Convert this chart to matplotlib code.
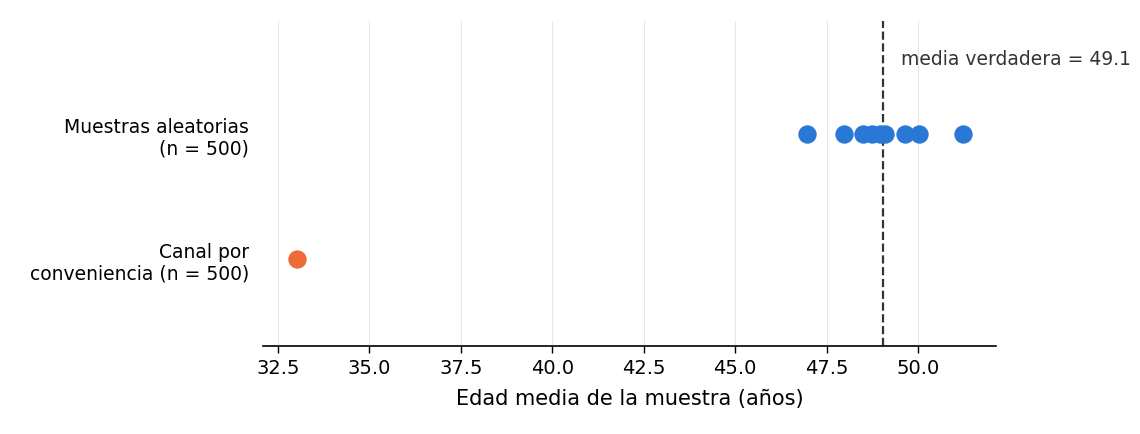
import matplotlib.pyplot as plt

# sample means
random_means = [46.95, 47.98, 48.49, 48.74, 48.95, 49.1, 49.65, 50.03, 51.22]
convenience_means = [33.02]
true_mean = 49.03
true_label = "media verdadera = 49.1"
row_labels = ["Canal por\nconveniencia (n = 500)", "Muestras aleatorias\n(n = 500)"]
xticks = [32.5, 35.0, 37.5, 40.0, 42.5, 45.0, 47.5, 50.0]

fig = plt.figure(figsize=(11.4, 4.35), dpi=100)
ax = fig.add_axes([263 / 1140, 88 / 435, 733 / 1140, 325 / 435])

ax.scatter(random_means, [1] * len(random_means), s=175, color="#2A78D6", zorder=3, linewidths=0)
ax.scatter(convenience_means, [0] * len(convenience_means), s=175, color="#EE6A36", zorder=3, linewidths=0)

ax.axvline(true_mean, color="#333333", linestyle="--", linewidth=1.6, zorder=2)
ax.text(true_mean + 0.5, 1.6, true_label, color="#333333",
        fontsize=13.5, va="center", ha="left")

ax.set_xlim(32.09, 52.13)
ax.set_ylim(-0.696, 1.904)
ax.set_xticks(xticks)
ax.set_xticklabels([f"{t:.1f}" for t in xticks], fontsize=14)
ax.set_yticks([0, 1])
ax.set_yticklabels(row_labels, fontsize=13.5, ha="right")
ax.tick_params(axis="y", length=0, pad=10)
ax.tick_params(axis="x", length=5, width=1)
ax.grid(axis="x", color="#e6e6e6", linewidth=0.8, zorder=0)
ax.set_axisbelow(True)
for side in ["top", "right", "left"]:
    ax.spines[side].set_visible(False)
ax.spines["bottom"].set_linewidth(1.2)
ax.set_xlabel("Edad media de la muestra (años)", fontsize=15, labelpad=8)

fig.savefig("out.png", dpi=100)
